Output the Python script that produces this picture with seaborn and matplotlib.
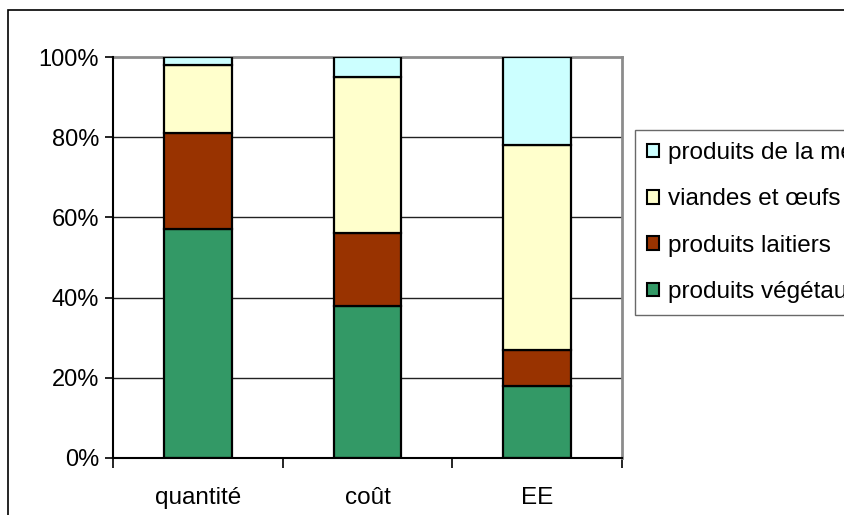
import matplotlib
matplotlib.use("Agg")
import matplotlib.pyplot as plt
from matplotlib.patches import Rectangle, Patch
from matplotlib.ticker import FixedLocator, PercentFormatter
import numpy as np
import pandas as pd
import seaborn as sns

# Share of each food group (%) for each criterion
categories = ["quantité", "coût", "EE"]
series_names = ["produits végétaux", "produits laitiers", "viandes et œufs", "produits de la mer"]
vegetaux = [57, 38, 18]
laitiers = [24, 18, 9]
viandes = [17, 39, 51]
mer = [2, 5, 22]
series_values = [vegetaux, laitiers, viandes, mer]
series_colors = ["#339966", "#993300", "#FFFFCC", "#CCFFFF"]
y_ticks = [0, 20, 40, 60, 80, 100]

sns.set_theme(style="white")
plt.rcParams["font.family"] = ["Liberation Sans", "DejaVu Sans"]

fig = plt.figure(figsize=(8.44, 5.15), dpi=100)
ax = fig.add_axes([113 / 844, 1 - 458 / 515, (622 - 113) / 844, (458 - 57) / 515])

bottom = np.zeros(len(categories))
for name, vals, col in zip(series_names, series_values, series_colors):
    df = pd.DataFrame({"cat": categories, "val": vals})
    sns.barplot(data=df, x="cat", y="val", order=categories, color=col,
                saturation=1, width=0.4, errorbar=None, bottom=bottom,
                edgecolor="black", linewidth=1.6, ax=ax, zorder=3)
    bottom = bottom + np.array(vals)

if ax.get_legend() is not None:
    ax.get_legend().remove()

ax.set_xlim(-0.5, len(categories) - 0.5)
ax.set_ylim(0, 100)
ax.set_xlabel("")
ax.set_ylabel("")

# horizontal gridlines
ax.yaxis.set_major_locator(FixedLocator(y_ticks))
ax.yaxis.set_major_formatter(PercentFormatter(decimals=0))
for t in y_ticks[1:-1]:
    ax.axhline(t, color="#222222", lw=1.0, zorder=1)

ax.tick_params(axis="y", which="major", left=True, length=6, width=1.2,
               color="black", pad=4, labelsize=17, labelcolor="black")
ax.tick_params(axis="x", which="major", bottom=False, length=0, pad=21,
               labelsize=17.5, labelcolor="black")
ax.xaxis.set_minor_locator(FixedLocator([-0.5, 0.5, 1.5, 2.5]))
ax.tick_params(axis="x", which="minor", bottom=True, length=7, width=1.2,
               color="black")

for side in ["left", "bottom"]:
    ax.spines[side].set_color("black")
    ax.spines[side].set_linewidth(1.5)
    ax.spines[side].set_zorder(4)
for side in ["top", "right"]:
    ax.spines[side].set_color("#8c8c8c")
    ax.spines[side].set_linewidth(2)
    ax.spines[side].set_zorder(2)

# legend, top series first
handles = [Patch(facecolor=c, edgecolor="black", linewidth=1.5)
           for c in series_colors][::-1]
leg = fig.legend(handles, series_names[::-1], loc="upper left",
                 bbox_to_anchor=(635 / 844, 1 - 130 / 515),
                 bbox_transform=fig.transFigure, fontsize=17.5,
                 labelcolor="black",
                 frameon=True, fancybox=False, handlelength=0.5,
                 handleheight=0.5, handletextpad=0.35, labelspacing=1.0,
                 borderpad=0.5, borderaxespad=0)
leg.get_frame().set_edgecolor("#444444")
leg.get_frame().set_linewidth(1.0)

# outer chart border
fig.patches.append(Rectangle((8 / 844, -0.1), 2, 1 - 10 / 515 + 0.1,
                             transform=fig.transFigure, fill=False,
                             edgecolor="black", lw=1.2))

fig.savefig("out.png", dpi=100)
